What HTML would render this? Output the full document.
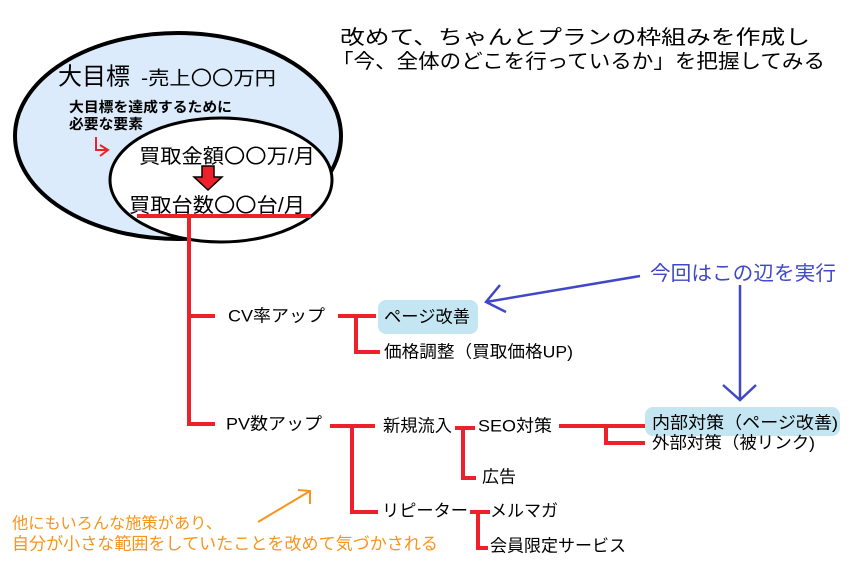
<!DOCTYPE html>
<html><head><meta charset="utf-8"><style>
html,body{margin:0;padding:0;background:#fff;}
svg{display:block;}
text{font-family:"Liberation Sans","Noto Sans CJK JP",sans-serif;fill:#000;dominant-baseline:central;}
</style></head><body>
<svg width="864" height="582" viewBox="0 0 864 582" xmlns="http://www.w3.org/2000/svg">
<rect width="864" height="582" fill="#fff"/>
<text x="340" y="38" font-size="20" textLength="470" lengthAdjust="spacingAndGlyphs">改めて、ちゃんとプランの枠組みを作成し</text>
<text x="332" y="62" font-size="20" textLength="493" lengthAdjust="spacingAndGlyphs">「今、全体のどこを行っているか」を把握してみる</text>
<ellipse cx="178" cy="136" rx="163" ry="103" fill="#dcebfb" stroke="#000" stroke-width="4"/>
<ellipse cx="221" cy="180" rx="111" ry="62" fill="#fff" stroke="#000" stroke-width="3"/>
<text x="58" y="77" font-size="24" textLength="72" lengthAdjust="spacingAndGlyphs">大目標</text>
<text x="141" y="79" font-size="19" textLength="135" lengthAdjust="spacingAndGlyphs">-売上〇〇万円</text>
<text x="69" y="107" font-size="14" font-weight="bold" textLength="163" lengthAdjust="spacingAndGlyphs">大目標を達成するために</text>
<text x="69" y="124" font-size="14" font-weight="bold" textLength="74" lengthAdjust="spacingAndGlyphs">必要な要素</text>
<path d="M96 137 V150 H106 M100 145 L108 150 L100 156" fill="none" stroke="#ee2029" stroke-width="2"/>
<text x="139" y="157" font-size="20" textLength="176" lengthAdjust="spacingAndGlyphs">買取金額〇〇万/月</text>
<polygon points="202,166 214,166 214,177 222,177 208,190 194,177 202,177" fill="#ee2029" stroke="#000" stroke-width="1.5"/>
<text x="129" y="206" font-size="20" textLength="176" lengthAdjust="spacingAndGlyphs">買取台数〇〇台/月</text>
<g stroke="#ee2029" stroke-width="4" fill="none">
<path d="M137 216 H311"/>
<path d="M189 216 V424 H215 M189 316 H215"/>
<path d="M338 316 H376 M356 316 V352 H380"/>
<path d="M330 426 H375 M352 426 V512 H378"/>
<path d="M455 428 H475 M463 428 V478 H476"/>
<path d="M559 426 H645 M606 426 V443 H645"/>
<path d="M470 512 H490 M478 512 V548 H488"/>
</g>
<text x="228" y="316" font-size="17" textLength="97" lengthAdjust="spacingAndGlyphs">CV率アップ</text>
<rect x="378" y="300" width="100" height="34" rx="8" fill="#c4e6f2"/>
<text x="384" y="317" font-size="17" textLength="86" lengthAdjust="spacingAndGlyphs">ページ改善</text>
<text x="384" y="352" font-size="17" textLength="189" lengthAdjust="spacingAndGlyphs">価格調整（買取価格UP)</text>
<text x="226" y="424" font-size="17" textLength="96" lengthAdjust="spacingAndGlyphs">PV数アップ</text>
<text x="383" y="426" font-size="17" textLength="69" lengthAdjust="spacingAndGlyphs">新規流入</text>
<text x="478" y="426" font-size="17" textLength="74" lengthAdjust="spacingAndGlyphs">SEO対策</text>
<text x="482" y="477" font-size="17" textLength="34" lengthAdjust="spacingAndGlyphs">広告</text>
<rect x="645" y="407" width="195" height="29" rx="8" fill="#c4e6f2"/>
<text x="652" y="423" font-size="17" textLength="186" lengthAdjust="spacingAndGlyphs">内部対策（ページ改善)</text>
<text x="652" y="443" font-size="17" textLength="163" lengthAdjust="spacingAndGlyphs">外部対策（被リンク)</text>
<text x="382" y="511" font-size="17" textLength="86" lengthAdjust="spacingAndGlyphs">リピーター</text>
<text x="490" y="511" font-size="17" textLength="68" lengthAdjust="spacingAndGlyphs">メルマガ</text>
<text x="490" y="546" font-size="17" textLength="136" lengthAdjust="spacingAndGlyphs">会員限定サービス</text>
<g stroke="#4048c8" stroke-width="2.5" fill="none">
<path d="M640 276 L486 302 M500 285 L486 302 L506 312"/>
<path d="M740 285 V400 M723 385 L740 400 L756 385"/>
</g>
<text x="650" y="274" font-size="20" textLength="186" lengthAdjust="spacingAndGlyphs" style="fill:#4048c8">今回はこの辺を実行</text>
<path d="M258 522 L310 491 M298 490 L310 491 L310 504" stroke="#f7941d" stroke-width="2" fill="none"/>
<text x="12" y="524" font-size="16" textLength="210" lengthAdjust="spacingAndGlyphs" style="fill:#f7941d">他にもいろんな施策があり、</text>
<text x="12" y="544" font-size="17" textLength="426" lengthAdjust="spacingAndGlyphs" style="fill:#f7941d">自分が小さな範囲をしていたことを改めて気づかされる</text>
</svg>
</body></html>
